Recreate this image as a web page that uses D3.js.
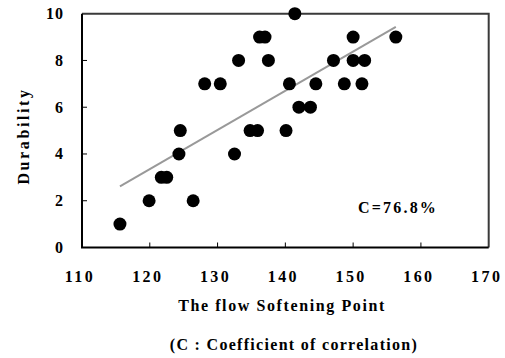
<!DOCTYPE html>
<html>
<head>
<meta charset="utf-8">
<script src="https://d3js.org/d3.v7.min.js"></script>
<style>
  body { margin: 0; background: #fff; }
  text { font-family: "Liberation Serif", "Times New Roman", serif; font-weight: bold; fill: #000; }
</style>
</head>
<body>
<div id="chart"></div>
<script>
// softening point vs durability
const softPoint = [115.6, 119.9, 121.7, 122.5, 124.3, 124.5, 126.4, 128.1, 130.4, 132.5,
                   133.1, 134.8, 135.9, 136.2, 137.0, 137.5, 141.4, 150.0, 156.3, 147.1,
                   150.0, 151.7, 140.6, 144.5, 148.7, 151.3, 142.0, 143.7, 140.1];
const durability = [1, 2, 3, 3, 4, 5, 2, 7, 7, 4,
                    8, 5, 5, 9, 9, 8, 10, 9, 9, 8,
                    8, 8, 7, 7, 7, 7, 6, 6, 5];
const xTicks = [110, 120, 130, 140, 150, 160, 170];
const yTicks = [0, 2, 4, 6, 8, 10];
const corrLabel = "C=76.8%";

const width = 505, height = 358;
const margin = {top: 13.7, right: 16.3, bottom: 110.5, left: 82};

const svg = d3.select("#chart").append("svg")
    .attr("width", width)
    .attr("height", height);

const x = d3.scaleLinear().domain([110, 170]).range([margin.left, width - margin.right]);
const y = d3.scaleLinear().domain([0, 10]).range([height - margin.bottom, margin.top]);

// top + right border (slightly grey)
svg.append("path")
    .attr("d", `M${x(110)},${y(10)}H${x(170)}V${y(0)}`)
    .attr("fill", "none").attr("stroke", "#3a3a3a").attr("stroke-width", 2);

// inside ticks
svg.append("g").selectAll("line").data(xTicks.slice(1, -1)).enter().append("line")
    .attr("x1", d => x(d)).attr("x2", d => x(d))
    .attr("y1", y(0)).attr("y2", y(0) - 5)
    .attr("stroke", "#000");
svg.append("g").selectAll("line").data(yTicks.slice(1, -1)).enter().append("line")
    .attr("x1", x(110)).attr("x2", x(110) + 5)
    .attr("y1", d => y(d)).attr("y2", d => y(d))
    .attr("stroke", "#000");

// left + bottom axis lines
svg.append("path")
    .attr("d", `M${x(110)},${y(10)}V${y(0)}H${x(170)}`)
    .attr("fill", "none").attr("stroke", "#000").attr("stroke-width", 2);

// tick labels
svg.append("g").selectAll("text").data(xTicks).enter().append("text")
    .attr("x", d => x(d) - 2).attr("y", 282)
    .attr("text-anchor", "middle")
    .attr("font-size", "16px")
    .style("letter-spacing", "2.4px")
    .text(d => d);
svg.append("g").selectAll("text").data(yTicks).enter().append("text")
    .attr("x", 64).attr("y", d => y(d) + 5.5)
    .attr("text-anchor", "end")
    .attr("font-size", "16px")
    .style("letter-spacing", "1px")
    .text(d => d);

// regression line
const mx = d3.mean(softPoint), my = d3.mean(durability);
let sxy = 0, sxx = 0;
softPoint.forEach((v, i) => { sxy += (v - mx) * (durability[i] - my); sxx += (v - mx) * (v - mx); });
const slope = sxy / sxx, icpt = my - slope * mx;
const [xmin, xmax] = d3.extent(softPoint);

svg.append("line")
    .attr("x1", x(xmin)).attr("y1", y(icpt + slope * xmin))
    .attr("x2", x(xmax)).attr("y2", y(icpt + slope * xmax))
    .attr("stroke", "#999").attr("stroke-width", 2);

// points
svg.append("g").selectAll("circle").data(softPoint).enter().append("circle")
    .attr("cx", d => x(d))
    .attr("cy", (d, i) => y(durability[i]))
    .attr("r", 6.5)
    .attr("fill", "#000");

svg.append("text")
    .attr("x", 358).attr("y", 213)
    .attr("font-size", "16px")
    .style("letter-spacing", "2.2px")
    .text(corrLabel);

// axis titles
svg.append("text")
    .attr("x", 282).attr("y", 311)
    .attr("text-anchor", "middle")
    .attr("font-size", "16px")
    .style("letter-spacing", "1.6px")
    .text("The flow Softening Point");

svg.append("text")
    .attr("x", 294).attr("y", 350)
    .attr("text-anchor", "middle")
    .attr("font-size", "16px")
    .style("letter-spacing", "1.3px")
    .text("(C : Coefficient of correlation)");

svg.append("text")
    .attr("transform", "translate(29,136) rotate(-90)")
    .attr("text-anchor", "middle")
    .attr("font-size", "16px")
    .style("letter-spacing", "2.6px")
    .text("Durability");
</script>
</body>
</html>
